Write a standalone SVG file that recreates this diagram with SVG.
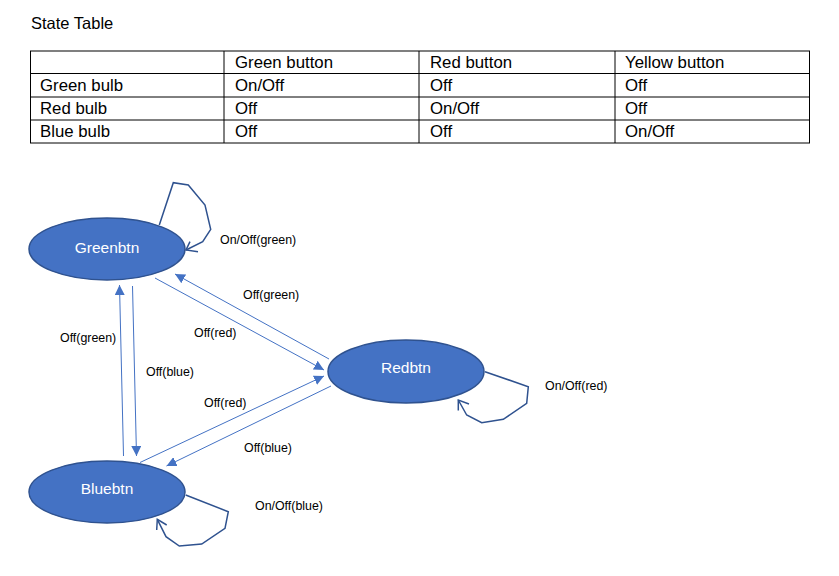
<svg xmlns="http://www.w3.org/2000/svg" width="839" height="576" viewBox="0 0 839 576">
<style>
.t{font-family:"Liberation Sans",Arial,sans-serif;font-size:16.8px;fill:#000}
.lbl{font-family:"Liberation Sans",Arial,sans-serif;font-size:12.4px;fill:#000}
.nl{font-family:"Liberation Sans",Arial,sans-serif;font-size:15.5px;fill:#fff;text-anchor:middle}
.node{fill:#4472C4;stroke:#2F528F;stroke-width:1.5}
.edge{stroke:#4472C4;stroke-width:1;fill:none}
.loop{stroke:#2F528F;stroke-width:1.5;fill:none}
.grid{stroke:#000;stroke-width:1;fill:none}
</style>
<defs>
<marker id="ah" viewBox="0 0 10 10" refX="10" refY="5" markerWidth="10" markerHeight="10" markerUnits="userSpaceOnUse" orient="auto">
<path d="M0,0 L10,5 L0,10 z" fill="#4472C4"/>
</marker>
</defs>
<rect width="839" height="576" fill="#fff"/>
<text class="t" x="31" y="29" style="font-size:16.5px">State Table</text>
<g id="table">
<rect class="grid" x="30.5" y="51" width="779" height="92"/>
<line class="grid" x1="30.5" y1="73.5" x2="809.5" y2="73.5"/>
<line class="grid" x1="30.5" y1="97" x2="809.5" y2="97"/>
<line class="grid" x1="30.5" y1="120" x2="809.5" y2="120"/>
<line class="grid" x1="224" y1="51" x2="224" y2="143"/>
<line class="grid" x1="419" y1="51" x2="419" y2="143"/>
<line class="grid" x1="615" y1="51" x2="615" y2="143"/>
<text class="t" x="235" y="67.5">Green button</text>
<text class="t" x="430" y="67.5">Red button</text>
<text class="t" x="625" y="67.5">Yellow button</text>
<text class="t" x="40" y="90.5">Green bulb</text>
<text class="t" x="235" y="90.5">On/Off</text>
<text class="t" x="430" y="90.5">Off</text>
<text class="t" x="625" y="90.5">Off</text>
<text class="t" x="40" y="113.5">Red bulb</text>
<text class="t" x="235" y="113.5">Off</text>
<text class="t" x="430" y="113.5">On/Off</text>
<text class="t" x="625" y="113.5">Off</text>
<text class="t" x="40" y="136.5">Blue bulb</text>
<text class="t" x="235" y="136.5">Off</text>
<text class="t" x="430" y="136.5">Off</text>
<text class="t" x="625" y="136.5">On/Off</text>
</g>
<g id="connectors">
<line class="edge" x1="155" y1="278" x2="324" y2="370" marker-end="url(#ah)"/>
<line class="edge" x1="329" y1="359" x2="175" y2="274" marker-end="url(#ah)"/>
<line class="edge" x1="140" y1="462.5" x2="324" y2="376" marker-end="url(#ah)"/>
<line class="edge" x1="331" y1="386" x2="166.5" y2="466" marker-end="url(#ah)"/>
<line class="edge" x1="123.5" y1="456" x2="119.5" y2="285" marker-end="url(#ah)"/>
<line class="edge" x1="132.5" y1="286" x2="136.5" y2="456" marker-end="url(#ah)"/>
<polyline class="loop" points="159.3,225 173.3,182.7 188.3,185 205,205 210.7,229.3 202.7,241.7 186,250"/>
<polyline class="loop" points="190,241.7 186,250 198,251.7"/>
<polyline class="loop" points="485,371.7 528.3,386.7 526.7,403.3 503.3,419.3 481.7,422.7 466.7,415 458.3,400"/>
<polyline class="loop" points="458.3,410.5 458.3,400 469,404"/>
<polyline class="loop" points="185.7,495 228.3,511.7 225,528.3 201.7,544 179.3,546 166,536.7 157.3,519.3"/>
<polyline class="loop" points="156.7,530 157.3,519.3 166.7,525"/>
<text class="lbl" x="220" y="244">On/Off(green)</text>
<text class="lbl" x="243" y="298.5">Off(green)</text>
<text class="lbl" x="194" y="336.5">Off(red)</text>
<text class="lbl" x="146" y="376">Off(blue)</text>
<text class="lbl" x="204" y="406.5">Off(red)</text>
<text class="lbl" x="244" y="451.5">Off(blue)</text>
<text class="lbl" x="60" y="341.5">Off(green)</text>
<text class="lbl" x="545" y="390">On/Off(red)</text>
<text class="lbl" x="255" y="510">On/Off(blue)</text>
</g>
<g id="greenbtn">
<ellipse class="node" cx="107" cy="249" rx="78" ry="31"/>
<text class="nl" x="107" y="252.5">Greenbtn</text>
</g>
<g id="redbtn">
<ellipse class="node" cx="406" cy="371.5" rx="78" ry="31.5"/>
<text class="nl" x="406" y="373">Redbtn</text>
</g>
<g id="bluebtn">
<ellipse class="node" cx="107" cy="492" rx="78" ry="31"/>
<text class="nl" x="107" y="494">Bluebtn</text>
</g>
</svg>
